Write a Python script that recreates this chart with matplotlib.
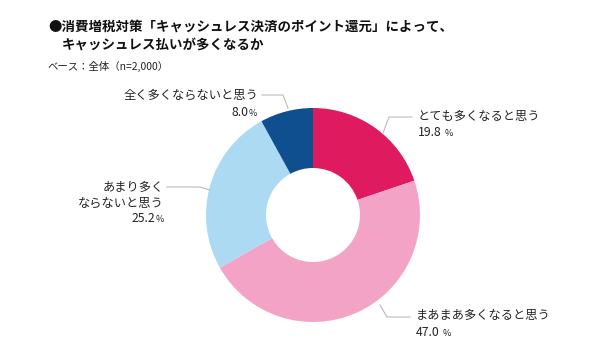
import matplotlib.pyplot as plt

plt.rcParams['font.family'] = ['Noto Sans CJK JP', 'DejaVu Sans']

labels = ['とても多くなると思う', 'まあまあ多くなると思う', 'あまり多く\nならないと思う', '全く多くならないと思う']
values = [19.8, 47.0, 25.2, 8.0]
pct_text = ['19.8', '47.0', '25.2', '8.0']
colors = ['#E01A5F', '#F2A3C6', '#ABDAF2', '#0F4F8F']

title1 = '●消費増税対策「キャッシュレス決済のポイント還元」によって、'
title2 = 'キャッシュレス払いが多くなるか'
base = 'ベース：全体（n=2,000）'

H = 350
fig = plt.figure(figsize=(6, 3.5), dpi=100)
ax = fig.add_axes([0, 0, 1, 1])
ax.axis('off')

ax.pie(values, colors=colors, startangle=90, counterclock=False,
       center=(313, H - 215), radius=107,
       wedgeprops=dict(width=60, edgecolor='none'))
ax.set_xlim(0, 600)
ax.set_ylim(0, H)
ax.set_aspect('equal')

ax.text(48, H - 27, title1, fontsize=9.7, fontweight='bold', va='center', color='#111111')
ax.text(62, H - 46, title2, fontsize=9.7, fontweight='bold', va='center', color='#111111')
ax.text(47, H - 66, base, fontsize=7.5, va='center', color='#222222')

lc = '#BBBBBB'
tc = '#222222'
fs = 8.8

fig.canvas.draw()


def pct(x, y, num, ha):
    # number normal size, % sign smaller
    if ha == 'left':
        t = ax.text(x, y, num, fontsize=fs, va='center', ha='left', color=tc)
        bb = t.get_window_extent(renderer=fig.canvas.get_renderer())
        ax.text(bb.x1 + 3, y - 1, '%', fontsize=6.5, va='center', ha='left', color=tc)
    else:
        t = ax.text(x, y - 1, '%', fontsize=6.5, va='center', ha='right', color=tc)
        bb = t.get_window_extent(renderer=fig.canvas.get_renderer())
        ax.text(bb.x0, y, num, fontsize=fs, va='center', ha='right', color=tc)


# とても多くなると思う
ax.plot([383, 389, 412], [H - 133, H - 117, H - 117], color=lc, lw=0.8)
ax.text(418, H - 116, labels[0], fontsize=fs, va='center', ha='left', color=tc)
pct(418, H - 133, pct_text[0], 'left')

# まあまあ多くなると思う
ax.plot([380, 387, 410], [H - 305, H - 317, H - 317], color=lc, lw=0.8)
ax.text(416, H - 315, labels[1], fontsize=fs, va='center', ha='left', color=tc)
pct(416, H - 333, pct_text[1], 'left')

# あまり多くならないと思う
ax.plot([167, 200, 210], [H - 187, H - 187, H - 190], color=lc, lw=0.8)
ax.text(164, H - 195, labels[2], fontsize=fs, va='center', ha='right', color=tc,
        linespacing=1.3)
pct(164, H - 218, pct_text[2], 'right')

# 全く多くならないと思う
ax.plot([262, 283, 288], [H - 95, H - 95, H - 108], color=lc, lw=0.8)
ax.text(258, H - 95, labels[3], fontsize=fs, va='center', ha='right', color=tc)
pct(257, H - 113, pct_text[3], 'right')

fig.savefig('out.png', dpi=100)
